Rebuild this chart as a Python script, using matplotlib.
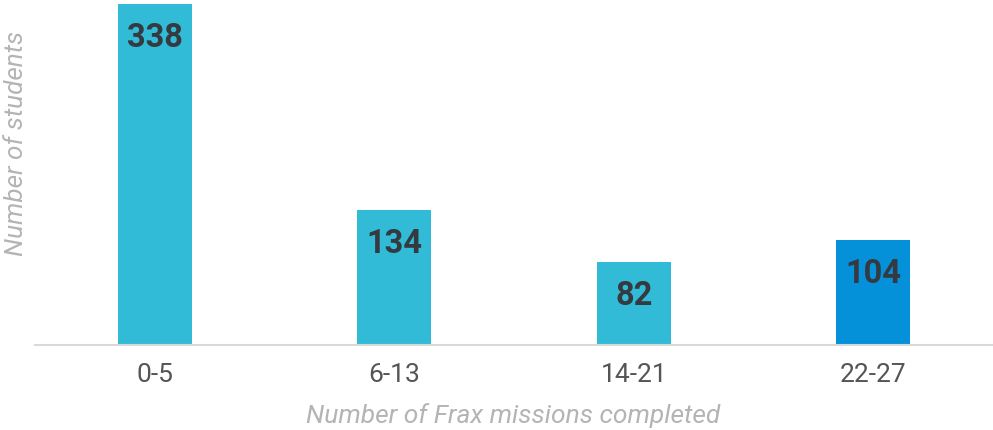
import matplotlib

matplotlib.use("Agg")
import matplotlib.pyplot as plt
import numpy as np

plt.rcParams["font.family"] = ["Roboto", "DejaVu Sans"]

categories = ["0-5", "6-13", "14-21", "22-27"]
students = [338, 134, 82, 104]
bar_colors = ["#31bbd7", "#31bbd7", "#31bbd7", "#0590da"]

fig = plt.figure(figsize=(9.93, 4.30), dpi=100)
ax = fig.add_axes([35 / 993, 85 / 430, 1 - 35 / 993, 345 / 430])

x = np.arange(len(categories))
bars = ax.bar(x, students, width=0.31, color=bar_colors, zorder=2)
for bar, v in zip(bars, students):
    ax.annotate(f"{v}", (bar.get_x() + bar.get_width() / 2, v),
                xytext=(0, -13), textcoords="offset points",
                ha="center", va="top", fontsize=23.5, fontweight="bold",
                color="#343a40")

ax.set_xlim(-0.5, 3.5)
ax.set_ylim(0, 342)
ax.set_xticks(x)
ax.set_xticklabels(categories, fontsize=19, color="#555555")
ax.tick_params(axis="x", length=0, pad=13)
ax.set_yticks([])
for s in ("top", "right", "left"):
    ax.spines[s].set_visible(False)
ax.spines["bottom"].set_color("#d9d9d9")
ax.spines["bottom"].set_linewidth(1.5)

fig.text(513 / 993, 1 - 416 / 430, "Number of Frax missions completed",
         ha="center", va="center", fontsize=19, style="italic", color="#b4b4b4")
fig.text(16 / 993, 1 - 143 / 430, "Number of students", rotation=90,
         ha="center", va="center", fontsize=18.8, style="italic", color="#b4b4b4")

fig.savefig("out.png", dpi=100)
